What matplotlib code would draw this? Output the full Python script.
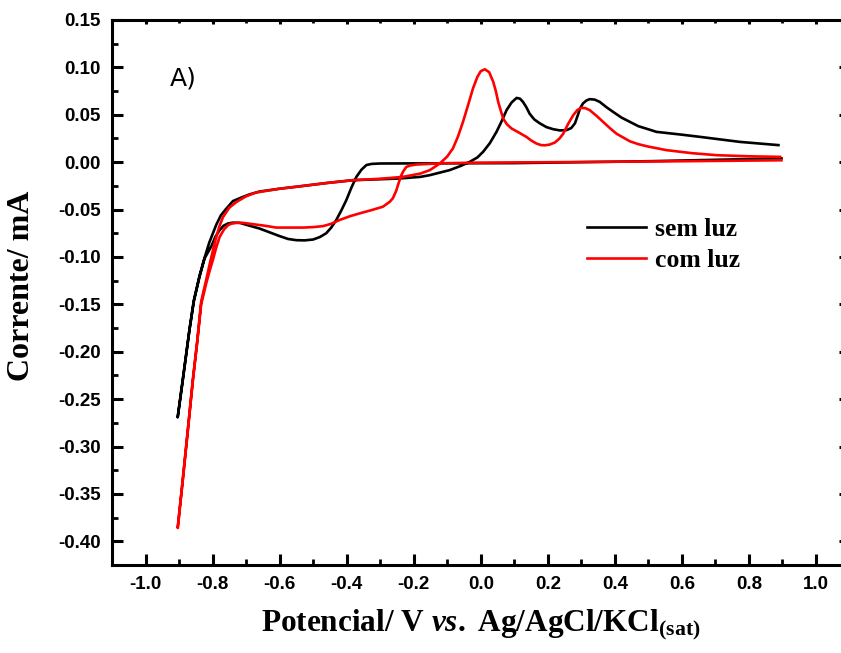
import matplotlib
matplotlib.use("Agg")
import matplotlib.pyplot as plt
from matplotlib.ticker import MultipleLocator, FormatStrFormatter

# ---- data ----
# sem luz: reverse scan from +0.9 V down to -0.9 V, then forward scan back up
sem_luz_x = [0.897, 0.700, 0.500, 0.300, 0.100, -0.100, -0.300, -0.325, -0.341, -0.356,
             -0.371, -0.386, -0.401, -0.416, -0.431, -0.446, -0.461, -0.480, -0.500, -0.525,
             -0.550, -0.575, -0.600, -0.630, -0.660, -0.690, -0.719, -0.740, -0.754, -0.767,
             -0.779, -0.792, -0.804, -0.824, -0.839, -0.856, -0.869, -0.889, -0.904,
             -0.889, -0.869, -0.856, -0.839, -0.824, -0.810, -0.789, -0.775, -0.759, -0.739,
             -0.719, -0.690, -0.660, -0.600, -0.540, -0.460, -0.381, -0.300, -0.242, -0.180,
             -0.152, -0.122, -0.093, -0.060, -0.033, -0.010, 0.007, 0.027, 0.047, 0.062,
             0.077, 0.092, 0.107, 0.117, 0.126, 0.136, 0.146, 0.160, 0.176, 0.196,
             0.216, 0.236, 0.256, 0.270, 0.281, 0.290, 0.296, 0.305, 0.315, 0.325,
             0.340, 0.355, 0.375, 0.395, 0.420, 0.445, 0.470, 0.499, 0.524, 0.600,
             0.654, 0.773, 0.888]
sem_luz_y = [0.004, 0.0025, 0.001, 0.000, -0.001, -0.0012, -0.0014, -0.0018, -0.003, -0.008,
             -0.0155, -0.027, -0.040, -0.051, -0.061, -0.069, -0.075, -0.079, -0.0816, -0.0825,
             -0.0823, -0.081, -0.078, -0.074, -0.070, -0.067, -0.064, -0.0638, -0.0647, -0.067,
             -0.0717, -0.079, -0.089, -0.1016, -0.121, -0.147, -0.177, -0.230, -0.269,
             -0.230, -0.177, -0.146, -0.120, -0.101, -0.085, -0.066, -0.056, -0.049, -0.041,
             -0.038, -0.034, -0.031, -0.028, -0.0255, -0.022, -0.019, -0.018, -0.0172, -0.0155,
             -0.0137, -0.011, -0.0084, -0.004, 0.0003, 0.005, 0.0109, 0.020, 0.032, 0.043,
             0.0549, 0.063, 0.0678, 0.067, 0.0636, 0.058, 0.051, 0.045, 0.041, 0.037,
             0.0348, 0.0335, 0.0338, 0.036, 0.041, 0.050, 0.0566, 0.062, 0.065, 0.0665,
             0.066, 0.0636, 0.058, 0.053, 0.047, 0.0425, 0.038, 0.0348, 0.032, 0.029,
             0.0267, 0.0214, 0.018]

# com luz: same scan order
com_luz_x = [0.897, 0.600, 0.300, 0.000, -0.120, -0.192, -0.210, -0.222, -0.230, -0.237,
             -0.245, -0.252, -0.262, -0.272, -0.292, -0.325, -0.361, -0.390, -0.421, -0.446,
             -0.471, -0.500, -0.530, -0.570, -0.610, -0.645, -0.680, -0.710, -0.729, -0.745,
             -0.754, -0.766, -0.779, -0.789, -0.799, -0.809, -0.819, -0.834, -0.846, -0.859,
             -0.874, -0.889, -0.904,
             -0.889, -0.874, -0.859, -0.846, -0.834, -0.819, -0.805, -0.792, -0.780, -0.769,
             -0.750, -0.729, -0.700, -0.670, -0.600, -0.540, -0.460, -0.381, -0.300, -0.232,
             -0.180, -0.152, -0.122, -0.100, -0.083, -0.068, -0.053, -0.038, -0.023, -0.010,
             0.000, 0.012, 0.025, 0.037, 0.045, 0.052, 0.060, 0.067, 0.078, 0.092,
             0.115, 0.136, 0.150, 0.166, 0.180, 0.191, 0.205, 0.221, 0.235, 0.246,
             0.260, 0.276, 0.288, 0.300, 0.312, 0.325, 0.345, 0.365, 0.385, 0.405,
             0.425, 0.445, 0.470, 0.499, 0.554, 0.630, 0.703, 0.800, 0.893]
com_luz_y = [0.002, 0.001, 0.0002, -0.0005, -0.0012, -0.0025, -0.0035, -0.005, -0.009, -0.0137,
             -0.022, -0.030, -0.038, -0.042, -0.047, -0.0505, -0.054, -0.057, -0.061, -0.065,
             -0.0675, -0.0685, -0.069, -0.069, -0.069, -0.067, -0.0654, -0.064, -0.064, -0.065,
             -0.0665, -0.071, -0.079, -0.090, -0.103, -0.115, -0.128, -0.150, -0.190, -0.231,
             -0.284, -0.336, -0.386,
             -0.335, -0.283, -0.230, -0.190, -0.147, -0.124, -0.102, -0.083, -0.068, -0.058,
             -0.048, -0.042, -0.036, -0.032, -0.028, -0.0255, -0.022, -0.019, -0.0175, -0.0155,
             -0.012, -0.0084, -0.0014, 0.006, 0.0145, 0.027, 0.0425, 0.060, 0.078, 0.090,
             0.096, 0.098, 0.095, 0.085, 0.075, 0.0636, 0.054, 0.046, 0.040, 0.0355,
             0.031, 0.0267, 0.023, 0.0197, 0.018, 0.0178, 0.0185, 0.0207, 0.025, 0.030,
             0.040, 0.0496, 0.055, 0.0573, 0.057, 0.0549, 0.049, 0.0425, 0.036, 0.030,
             0.026, 0.022, 0.019, 0.0165, 0.0127, 0.0095, 0.0074, 0.0062, 0.0056]

series_labels = ["sem luz", "com luz"]
xlabel_text = r"Potencial/ V $\mathit{vs.}$ Ag/AgCl/KCl$_{\mathrm{(sat)}}$"
ylabel_text = "Corrente/ mA"
panel_text = "A)"

# ---- styling ----
plt.rcParams['mathtext.fontset'] = 'custom'
plt.rcParams['mathtext.rm'] = 'Liberation Serif:bold'
plt.rcParams['mathtext.it'] = 'Liberation Serif:bold:italic'
plt.rcParams['mathtext.bf'] = 'Liberation Serif:bold'

fig = plt.figure(figsize=(8.41, 6.53), dpi=100)
ax = fig.add_axes([112/841, 88/653, 737.5/841, 545/653])

ax.plot(sem_luz_x, sem_luz_y, color='black', lw=1.9, label=series_labels[0],
        solid_joinstyle='round')
ax.plot(com_luz_x, com_luz_y, color='#ff0000', lw=1.9, label=series_labels[1],
        solid_joinstyle='round')

ax.set_xlim(-1.1, 1.1)
ax.set_ylim(-0.425, 0.15)

ax.xaxis.set_major_locator(MultipleLocator(0.2))
ax.xaxis.set_minor_locator(MultipleLocator(0.1))
ax.yaxis.set_major_locator(MultipleLocator(0.05))
ax.yaxis.set_minor_locator(MultipleLocator(0.025))
ax.xaxis.set_major_formatter(FormatStrFormatter('%.1f'))
ax.yaxis.set_major_formatter(FormatStrFormatter('%.2f'))

for sp in ax.spines.values():
    sp.set_linewidth(2.2)

ax.tick_params(which='major', direction='in', length=8, width=2.2, pad=8,
               top=True, right=True)
ax.tick_params(which='minor', direction='in', length=4, width=2.0,
               top=True, right=True)
for lbl in ax.get_xticklabels() + ax.get_yticklabels():
    lbl.set_fontfamily('Liberation Sans')
    lbl.set_fontweight('bold')
    lbl.set_fontsize(13.5)

# small ticks on the top axis, as in the reference
for t in ax.xaxis.get_major_ticks():
    t.tick2line.set_markersize(3)
for t in ax.xaxis.get_minor_ticks():
    t.tick2line.set_markersize(2)

ax.set_xlabel(xlabel_text, fontfamily='Liberation Serif', fontweight='bold',
              fontsize=22.5, labelpad=10)
ax.set_ylabel(ylabel_text, fontfamily='Liberation Serif', fontweight='bold',
              fontsize=23)
ax.yaxis.set_label_coords(-0.103, 0.512)

ax.text(0.078, 0.892, panel_text, transform=ax.transAxes, fontsize=18,
        fontfamily='DejaVu Sans', va='center', ha='left')

leg = ax.legend(loc='upper left', bbox_to_anchor=(0.644, 0.637), frameon=False,
                prop={'family': 'Liberation Serif', 'weight': 'bold', 'size': 18.5},
                handlelength=2.3, handletextpad=0.33, labelspacing=0.3,
                borderpad=0, borderaxespad=0)

fig.savefig("out.png", dpi=100)
